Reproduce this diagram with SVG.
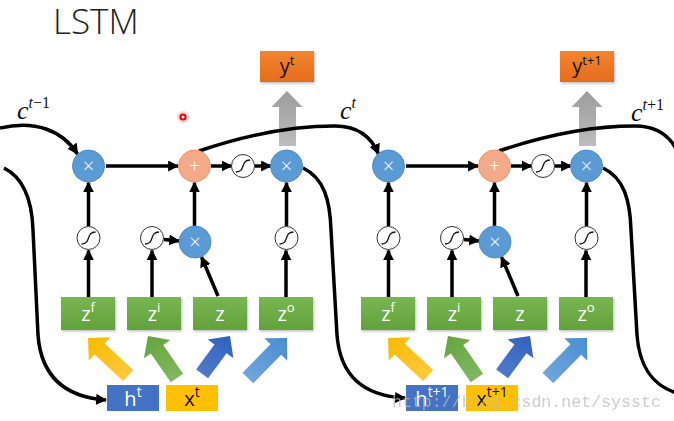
<svg xmlns="http://www.w3.org/2000/svg" width="674" height="421" viewBox="0 0 674 421">
<defs>
  <style>
    .ln{fill:none;stroke:#000;stroke-width:3.5}
    .mul{fill:#5B9BD5;stroke:#4F8CC8;stroke-width:1}
    .add{fill:#F4AA88;stroke:#EE9466;stroke-width:1}
    .sig{fill:#fff;stroke:#333;stroke-width:1}
    .sg{fill:none;stroke:#111;stroke-width:1.3}
    .op{font-family:"Open Sans","Noto Sans",sans-serif;font-weight:300;font-size:20px;fill:#fff;text-anchor:middle}
    .bx{font-family:"Open Sans","Noto Sans",sans-serif;font-size:20px;text-anchor:middle}
    .w{fill:#fff}
    .k{fill:#111}
    .cl{font-family:"Liberation Serif","DejaVu Serif",serif;font-style:italic;font-size:26px;fill:#111}
    .title{font-family:"Open Sans","Lato","Noto Sans",sans-serif;font-weight:300;font-size:35px;fill:#222}
    .wm{font-family:"Liberation Mono","DejaVu Sans Mono",monospace;font-size:16.6px;fill:#bbb;opacity:0.75}
  </style>
  <marker id="ah" viewBox="0 0 10 10" refX="9" refY="5" markerWidth="11" markerHeight="11" markerUnits="userSpaceOnUse" orient="auto">
    <path d="M0,0 L10,5 L0,10 z" fill="#000"/>
  </marker>
  <linearGradient id="gGreen" x1="0" y1="0" x2="0" y2="1">
    <stop offset="0" stop-color="#78B64F"/><stop offset="1" stop-color="#62A23C"/>
  </linearGradient>
  <linearGradient id="gOrange" x1="0" y1="0" x2="0" y2="1">
    <stop offset="0" stop-color="#F2852F"/><stop offset="1" stop-color="#E56C1C"/>
  </linearGradient>
  <linearGradient id="gGray" x1="0" y1="0" x2="0" y2="1">
    <stop offset="0" stop-color="#9C9C9C"/><stop offset="1" stop-color="#BDBDBD"/>
  </linearGradient>
  <linearGradient id="gY" x1="0" y1="0" x2="1" y2="0">
    <stop offset="0" stop-color="#FFC83C"/><stop offset="1" stop-color="#F5BC00"/>
  </linearGradient>
  <linearGradient id="gG" x1="0" y1="0" x2="1" y2="0">
    <stop offset="0" stop-color="#80B862"/><stop offset="1" stop-color="#64A43E"/>
  </linearGradient>
  <linearGradient id="gB" x1="0" y1="0" x2="1" y2="0">
    <stop offset="0" stop-color="#4F7ACB"/><stop offset="1" stop-color="#2F62BE"/>
  </linearGradient>
  <linearGradient id="gL" x1="0" y1="0" x2="1" y2="0">
    <stop offset="0" stop-color="#6EA6DC"/><stop offset="1" stop-color="#4A8DD2"/>
  </linearGradient>
  <filter id="sh" x="-10%" y="-10%" width="125%" height="130%">
    <feDropShadow dx="1" dy="1.5" stdDeviation="1" flood-color="#000" flood-opacity="0.25"/>
  </filter>
  <path id="sgm" d="M-7,6 C3,6 -3,-6 7,-6"/>
</defs>
<rect width="674" height="421" fill="#fff"/>

<text class="title" x="53" y="34">LSTM</text>

<!-- cursor marker -->
<g id="marker-dot">
  <circle cx="183" cy="117" r="6" fill="#f88" opacity="0.35"/>
  <circle cx="183" cy="117" r="3.6" fill="#e00"/>
  <circle cx="183" cy="117" r="1.5" fill="#fff"/>
</g>

<!-- output gray arrows -->
<g id="out-arrows">
  <polygon points="287,91 302.5,107 296,107 296,146 279,146 279,107 271.5,107" fill="url(#gGray)"/>
  <polygon points="587,91 602.5,107 596,107 596,146 579,146 579,107 571.5,107" fill="url(#gGray)"/>
</g>

<!-- input fat arrows -->
<g id="input-arrows">
  <polygon points="0,0 -16,-16 -16,-7.5 -55,-7.5 -55,7.5 -16,7.5 -16,16" fill="url(#gY)" transform="translate(88,338) rotate(-137)"/>
  <polygon points="0,0 -16,-16 -16,-7.5 -51,-7.5 -51,7.5 -16,7.5 -16,16" fill="url(#gG)" transform="translate(148,336) rotate(-124.6)"/>
  <polygon points="0,0 -16,-16 -16,-7.5 -47,-7.5 -47,7.5 -16,7.5 -16,16" fill="url(#gB)" transform="translate(230,336) rotate(-53.6)"/>
  <polygon points="0,0 -16,-16 -16,-7.5 -56,-7.5 -56,7.5 -16,7.5 -16,16" fill="url(#gL)" transform="translate(287,338) rotate(-45.7)"/>
  <polygon points="0,0 -16,-16 -16,-7.5 -55,-7.5 -55,7.5 -16,7.5 -16,16" fill="url(#gY)" transform="translate(388,338) rotate(-137)"/>
  <polygon points="0,0 -16,-16 -16,-7.5 -51,-7.5 -51,7.5 -16,7.5 -16,16" fill="url(#gG)" transform="translate(448,336) rotate(-124.6)"/>
  <polygon points="0,0 -16,-16 -16,-7.5 -47,-7.5 -47,7.5 -16,7.5 -16,16" fill="url(#gB)" transform="translate(530,336) rotate(-53.6)"/>
  <polygon points="0,0 -16,-16 -16,-7.5 -56,-7.5 -56,7.5 -16,7.5 -16,16" fill="url(#gL)" transform="translate(587,338) rotate(-45.7)"/>
</g>

<!-- connectors -->
<g id="connectors">
  <path class="ln" d="M0,128 C35,120 62,130 77.5,154" marker-end="url(#ah)"/>
  <path class="ln" d="M199,151 C240,137 290,126 335,126 C356,126 371,136 378.5,154" marker-end="url(#ah)"/>
  <path class="ln" d="M499,151 C540,137 590,126 635,126 C656,126 671,136 678.5,154"/>
  <path class="ln" d="M4,168 C24,178 32,200 33,230 L38,335 C41,375 63,397 106,400" marker-end="url(#ah)"/>
  <path class="ln" d="M303,168 C324,178 330,200 331,230 L337,335 C340,375 362,396 405,398" marker-end="url(#ah)"/>
  <path class="ln" d="M603,168 C624,178 630,200 631,230 L637,335 C640,375 660,392 690,396"/>
  <!-- cell t -->
  <path class="ln" d="M88.5,297 L88.5,250.5" marker-end="url(#ah)"/>
  <path class="ln" d="M88.5,226 L88.5,182.5" marker-end="url(#ah)"/>
  <path class="ln" d="M152,297 L152,250.5" marker-end="url(#ah)"/>
  <path class="ln" d="M164,239.5 L179,241" marker-end="url(#ah)"/>
  <path class="ln" d="M218,296 L201.5,257" marker-end="url(#ah)"/>
  <path class="ln" d="M194.5,226 L194.5,182.5" marker-end="url(#ah)"/>
  <path class="ln" d="M286,297 L286,250.5" marker-end="url(#ah)"/>
  <path class="ln" d="M286.5,226 L286.5,182.5" marker-end="url(#ah)"/>
  <path class="ln" d="M106,166 L178,166" marker-end="url(#ah)"/>
  <path class="ln" d="M211,166 L231.5,166" marker-end="url(#ah)"/>
  <path class="ln" d="M255,166 L271,166" marker-end="url(#ah)"/>
  <!-- cell t+1 -->
  <path class="ln" d="M388.5,297 L388.5,250.5" marker-end="url(#ah)"/>
  <path class="ln" d="M388.5,226 L388.5,182.5" marker-end="url(#ah)"/>
  <path class="ln" d="M452,297 L452,250.5" marker-end="url(#ah)"/>
  <path class="ln" d="M464,239.5 L479,241" marker-end="url(#ah)"/>
  <path class="ln" d="M518,296 L501.5,257" marker-end="url(#ah)"/>
  <path class="ln" d="M494.5,226 L494.5,182.5" marker-end="url(#ah)"/>
  <path class="ln" d="M586,297 L586,250.5" marker-end="url(#ah)"/>
  <path class="ln" d="M586.5,226 L586.5,182.5" marker-end="url(#ah)"/>
  <path class="ln" d="M406,166 L478,166" marker-end="url(#ah)"/>
  <path class="ln" d="M511,166 L531.5,166" marker-end="url(#ah)"/>
  <path class="ln" d="M555,166 L571,166" marker-end="url(#ah)"/>
</g>

<!-- cell-state labels -->
<g id="labels">
  <text class="cl" x="17" y="119">c<tspan dy="-11" font-size="16">t</tspan><tspan font-size="16" font-style="normal">−1</tspan></text>
  <text class="cl" x="340" y="119">c<tspan dy="-11" font-size="16">t</tspan></text>
  <text class="cl" x="631" y="121">c<tspan dy="-11" font-size="16">t</tspan><tspan font-size="16" font-style="normal">+1</tspan></text>
</g>

<!-- ===== cell t ===== -->
<g id="y_t"><rect x="260" y="51" width="54" height="31" fill="url(#gOrange)" filter="url(#sh)"/>
  <text class="bx k" x="287" y="73">y<tspan dy="-8" font-size="13">t</tspan></text></g>
<g id="mulF_t"><circle class="mul" cx="88.5" cy="166" r="16"/><text class="op" x="88.5" y="173">×</text></g>
<g id="add_t"><circle class="add" cx="194.5" cy="166" r="16"/><text class="op" x="194.5" y="173">+</text></g>
<g id="tanhC_t"><circle class="sig" cx="243" cy="166" r="11.5"/><use href="#sgm" class="sg" x="243" y="166"/></g>
<g id="mulO_t"><circle class="mul" cx="286.5" cy="166" r="16"/><text class="op" x="286.5" y="173">×</text></g>
<g id="sigF_t"><circle class="sig" cx="88.5" cy="238" r="11.5"/><use href="#sgm" class="sg" x="88.5" y="238"/></g>
<g id="sigI_t"><circle class="sig" cx="152" cy="238" r="11.5"/><use href="#sgm" class="sg" x="152" y="238"/></g>
<g id="mulI_t"><circle class="mul" cx="195" cy="242" r="16"/><text class="op" x="195" y="249">×</text></g>
<g id="sigO_t"><circle class="sig" cx="286.5" cy="238" r="11.5"/><use href="#sgm" class="sg" x="286.5" y="238"/></g>
<g id="zf_t"><rect x="61" y="297" width="54" height="33" fill="url(#gGreen)" filter="url(#sh)"/>
  <text class="bx w" x="88" y="321">z<tspan dy="-9" font-size="13">f</tspan></text></g>
<g id="zi_t"><rect x="127" y="297" width="54" height="33" fill="url(#gGreen)" filter="url(#sh)"/>
  <text class="bx w" x="154" y="321">z<tspan dy="-9" font-size="13">i</tspan></text></g>
<g id="z_t"><rect x="193" y="297" width="54" height="33" fill="url(#gGreen)" filter="url(#sh)"/>
  <text class="bx w" x="220" y="321">z</text></g>
<g id="zo_t"><rect x="259" y="297" width="54" height="33" fill="url(#gGreen)" filter="url(#sh)"/>
  <text class="bx w" x="286" y="321">z<tspan dy="-9" font-size="13">o</tspan></text></g>
<g id="h_t"><rect x="107" y="385" width="52" height="26" fill="#4472C4"/>
  <text class="bx w" x="133" y="406" font-size="22">h<tspan dy="-9" font-size="14">t</tspan></text></g>
<g id="x_t"><rect x="166" y="385" width="52" height="26" fill="#FFC000"/>
  <text class="bx k" x="192" y="406" font-size="22">x<tspan dy="-9" font-size="14">t</tspan></text></g>

<!-- ===== cell t+1 ===== -->
<g id="y_t1"><rect x="560" y="51" width="54" height="31" fill="url(#gOrange)" filter="url(#sh)"/>
  <text class="bx k" x="587" y="73">y<tspan dy="-8" font-size="13">t+1</tspan></text></g>
<g id="mulF_t1"><circle class="mul" cx="388.5" cy="166" r="16"/><text class="op" x="388.5" y="173">×</text></g>
<g id="add_t1"><circle class="add" cx="494.5" cy="166" r="16"/><text class="op" x="494.5" y="173">+</text></g>
<g id="tanhC_t1"><circle class="sig" cx="543" cy="166" r="11.5"/><use href="#sgm" class="sg" x="543" y="166"/></g>
<g id="mulO_t1"><circle class="mul" cx="586.5" cy="166" r="16"/><text class="op" x="586.5" y="173">×</text></g>
<g id="sigF_t1"><circle class="sig" cx="388.5" cy="238" r="11.5"/><use href="#sgm" class="sg" x="388.5" y="238"/></g>
<g id="sigI_t1"><circle class="sig" cx="452" cy="238" r="11.5"/><use href="#sgm" class="sg" x="452" y="238"/></g>
<g id="mulI_t1"><circle class="mul" cx="495" cy="242" r="16"/><text class="op" x="495" y="249">×</text></g>
<g id="sigO_t1"><circle class="sig" cx="586.5" cy="238" r="11.5"/><use href="#sgm" class="sg" x="586.5" y="238"/></g>
<g id="zf_t1"><rect x="361" y="297" width="54" height="33" fill="url(#gGreen)" filter="url(#sh)"/>
  <text class="bx w" x="388" y="321">z<tspan dy="-9" font-size="13">f</tspan></text></g>
<g id="zi_t1"><rect x="427" y="297" width="54" height="33" fill="url(#gGreen)" filter="url(#sh)"/>
  <text class="bx w" x="454" y="321">z<tspan dy="-9" font-size="13">i</tspan></text></g>
<g id="z_t1"><rect x="493" y="297" width="54" height="33" fill="url(#gGreen)" filter="url(#sh)"/>
  <text class="bx w" x="520" y="321">z</text></g>
<g id="zo_t1"><rect x="559" y="297" width="54" height="33" fill="url(#gGreen)" filter="url(#sh)"/>
  <text class="bx w" x="586" y="321">z<tspan dy="-9" font-size="13">o</tspan></text></g>
<g id="h_t1"><rect x="406" y="385" width="52" height="26" fill="#4472C4"/>
  <text class="bx w" x="432" y="406" font-size="22">h<tspan dy="-9" font-size="14">t+1</tspan></text></g>
<g id="x_t1"><rect x="466" y="385" width="52" height="26" fill="#FFC000"/>
  <text class="bx k" x="492" y="406" font-size="22">x<tspan dy="-9" font-size="14">t+1</tspan></text></g>

<text class="wm" x="392" y="407">http://blog.csdn.net/sysstc</text>
</svg>
